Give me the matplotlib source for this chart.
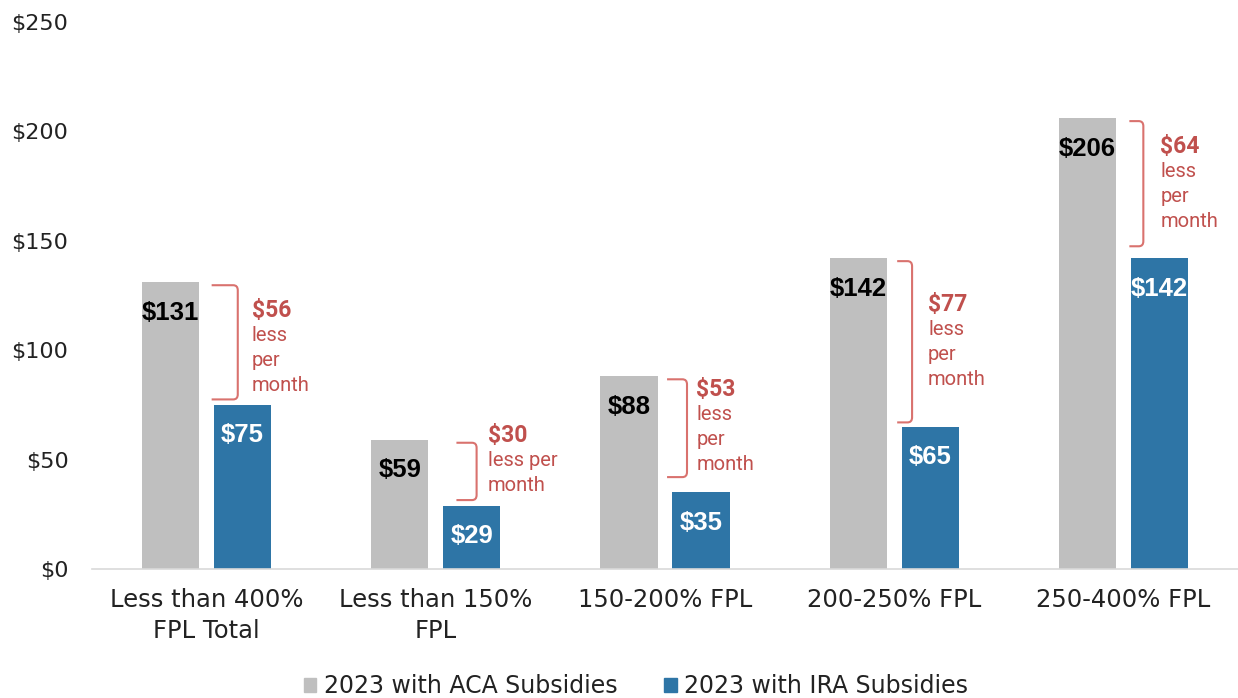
import matplotlib.pyplot as plt
import numpy as np
from matplotlib.patches import Patch, PathPatch
from matplotlib.path import Path

# data
categories = ["Less than 400%\nFPL Total", "Less than 150%\nFPL", "150-200% FPL",
              "200-250% FPL", "250-400% FPL"]
aca = [131, 59, 88, 142, 206]
ira = [75, 29, 35, 65, 142]
note_lines = [["less", "per", "month"], ["less per", "month"], ["less", "per", "month"],
              ["less", "per", "month"], ["less", "per", "month"]]
yticks = [0, 50, 100, 150, 200, 250]

# layout of the bracket notes (data units, relative to group centre)
br_dx = [0.136, 0.178, 0.096, 0.078, 0.087]
tick_dx = [0.022, 0.09, 0.009, 0.013, 0.026]
br_pad_lo = [2.5, 2.5, 7, 2, 5.5]
txt_dx = [0.06, 0.048, 0.04, 0.07, 0.074]
txt_y = [118, 61, 82, 121, 193]

gray = "#BFBFBF"
blue = "#2E75A6"
red = "#C0504D"
red_line = "#D9726E"

fig = plt.figure(figsize=(12.38, 6.98), dpi=100)
ax = fig.add_axes([92 / 1238, 1 - 569 / 698, 1 - 92 / 1238, (569 - 22) / 698])

x = np.arange(len(categories))
w = 0.25
off = 0.157
ax.bar(x - off, aca, w, color=gray, zorder=2)
ax.bar(x + off, ira, w, color=blue, zorder=2)

for xi, v in zip(x - off, aca):
    ax.annotate("$%d" % v, (xi, v), xytext=(0, -22), textcoords="offset points",
                ha="center", va="center", fontsize=18.5, fontweight="bold",
                family="Liberation Sans", color="black")
for xi, v in zip(x + off, ira):
    ax.annotate("$%d" % v, (xi, v), xytext=(0, -22), textcoords="offset points",
                ha="center", va="center", fontsize=18.5, fontweight="bold",
                family="Liberation Sans", color="white")

rx, ry = 0.02, 2.3  # corner rounding of the brackets
for i in range(len(categories)):
    hi = aca[i] - 1.3
    lo = ira[i] + br_pad_lo[i]
    bx = x[i] + br_dx[i]
    tx = x[i] + tick_dx[i]
    verts = [(tx, hi), (bx - rx, hi), (bx, hi), (bx, hi - ry),
             (bx, lo + ry), (bx, lo), (bx - rx, lo), (tx, lo)]
    codes = [Path.MOVETO, Path.LINETO, Path.CURVE3, Path.CURVE3,
             Path.LINETO, Path.CURVE3, Path.CURVE3, Path.LINETO]
    ax.add_patch(PathPatch(Path(verts, codes), fill=False, edgecolor=red_line,
                           lw=1.5, zorder=3))
    xt = bx + txt_dx[i]
    ax.annotate("$%d" % (aca[i] - ira[i]), (xt, txt_y[i]), ha="left", va="center",
                fontsize=16.5, fontweight="bold", family="Roboto", color=red)
    for k, line in enumerate(note_lines[i]):
        ax.annotate(line, (xt, txt_y[i]), xytext=(0, -18 * (k + 1)),
                    textcoords="offset points", ha="left", va="center",
                    fontsize=14.5, family="Roboto", color=red)

ax.set_xlim(-0.5, 4.5)
ax.set_ylim(0, 250)
ax.set_yticks(yticks)
ax.set_yticklabels(["$%d" % t for t in yticks], fontsize=16, color="#222222")
ax.set_xticks(x)
ax.set_xticklabels(categories, fontsize=17.5, color="#222222", linespacing=1.35)
ax.tick_params(axis="y", length=0, pad=17)
ax.tick_params(axis="x", length=0, pad=14)
for s in ["top", "right", "left"]:
    ax.spines[s].set_visible(False)
ax.spines["bottom"].set_color("#D9D9D9")
ax.spines["bottom"].set_linewidth(1.2)

handles = [Patch(color=gray, label="2023 with ACA Subsidies"),
           Patch(color=blue, label="2023 with IRA Subsidies")]
fig.legend(handles=handles, loc="center", bbox_to_anchor=(636 / 1238, 1 - 686 / 698),
           ncol=2, frameon=False, fontsize=17, handlelength=0.55, handleheight=0.55,
           handletextpad=0.3, columnspacing=2.0, labelcolor="#222222")

fig.savefig("out.png", dpi=100)
